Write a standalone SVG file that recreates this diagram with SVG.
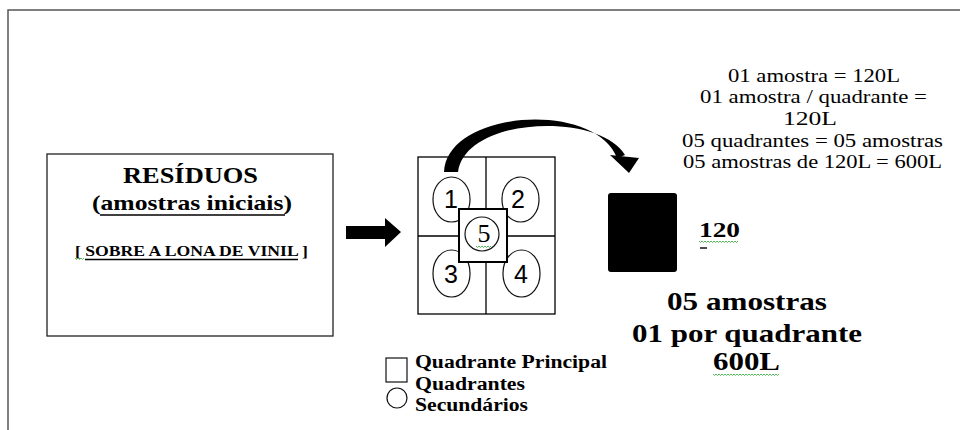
<svg xmlns="http://www.w3.org/2000/svg" width="960" height="430" viewBox="0 0 960 430">
  <style>
    .serif { font-family: "Liberation Serif", "Times New Roman", serif; fill: #000; }
    .bold { font-weight: bold; }
    .sans { font-family: "Liberation Sans", Arial, sans-serif; fill: #000; }
    .line { fill: none; stroke: #000; stroke-width: 1.3; }
    .thin { fill: #fff; stroke: #111; stroke-width: 1.2; }
    .ul { stroke: #000; stroke-width: 1.4; }
    .spell { fill: none; stroke: #3cb043; stroke-width: 0.9; }
    .frame { fill: none; stroke: #555; stroke-width: 1.5; }
  </style>
  <rect width="960" height="430" fill="#fff"/>
  <path class="frame" d="M8,430 V10 H960"/>

  <g id="residuos">
    <rect x="47" y="154" width="286" height="182" fill="#fff" stroke="#222" stroke-width="1.3"/>
    <text class="serif bold" x="123" y="183" font-size="23" textLength="135" lengthAdjust="spacingAndGlyphs">RESÍDUOS</text>
    <text class="serif bold" x="92" y="210" font-size="22" textLength="200" lengthAdjust="spacingAndGlyphs">(amostras iniciais)</text>
    <line class="ul" x1="100" y1="215" x2="285" y2="215"/>
    <text class="serif bold" x="75" y="256" font-size="15" textLength="233" lengthAdjust="spacingAndGlyphs">[ SOBRE A LONA DE VINIL ]</text>
    <line class="ul" x1="85" y1="259.5" x2="298" y2="259.5"/>
    <path class="spell" d="M75,258 l1.5,1.5 l1.5,-1.5 l1.5,1.5 l1.5,-1.5 l1.5,1.5 l1.5,-1.5"/>
  </g>

  <g id="quadrantes">
    <rect class="line" x="418" y="157" width="137" height="157"/>
    <line class="line" x1="486" y1="157" x2="486" y2="314"/>
    <line class="line" x1="418" y1="236" x2="555" y2="236"/>
    <rect class="thin" x="433" y="177" width="37" height="45" rx="18.5" ry="22"/>
    <rect class="thin" x="502" y="177" width="37" height="45" rx="18.5" ry="22"/>
    <rect class="thin" x="433" y="250" width="37" height="47" rx="18.5" ry="23"/>
    <rect class="thin" x="503" y="250" width="37" height="47" rx="18.5" ry="23"/>
    <text class="sans" x="451" y="208" font-size="25" text-anchor="middle">1</text>
    <text class="sans" x="518" y="208" font-size="25" text-anchor="middle">2</text>
    <text class="sans" x="451" y="283" font-size="25" text-anchor="middle">3</text>
    <text class="sans" x="521" y="283" font-size="25" text-anchor="middle">4</text>
    <rect x="459" y="209" width="48" height="53" fill="#fff" stroke="#000" stroke-width="2"/>
    <circle cx="482" cy="234" r="17" class="thin"/>
    <text class="serif" x="484" y="242" font-size="26" text-anchor="middle">5</text>
    <path class="spell" d="M476,246 l1.5,1.5 l1.5,-1.5 l1.5,1.5 l1.5,-1.5 l1.5,1.5 l1.5,-1.5 l1.5,1.5 l1.5,-1.5 l1.5,1.5 l1.5,-1.5"/>
  </g>

  <g id="calculo">
    <text class="serif" x="728" y="82" font-size="18" textLength="172" lengthAdjust="spacingAndGlyphs">01 amostra = 120L</text>
    <text class="serif" x="700" y="103" font-size="18" textLength="227" lengthAdjust="spacingAndGlyphs">01 amostra / quadrante =</text>
    <text class="serif" x="783" y="125" font-size="18" textLength="54" lengthAdjust="spacingAndGlyphs">120L</text>
    <text class="serif" x="682" y="147" font-size="18" textLength="261" lengthAdjust="spacingAndGlyphs">05 quadrantes = 05 amostras</text>
    <text class="serif" x="683" y="168" font-size="18" textLength="259" lengthAdjust="spacingAndGlyphs">05 amostras de 120L = 600L</text>
  </g>

  <g id="amostra">
    <rect x="608" y="193" width="69" height="79" rx="3" fill="#000"/>
    <text class="serif bold" x="699" y="237" font-size="20" textLength="41" lengthAdjust="spacingAndGlyphs">120</text>
    <path class="spell" d="M699,241 l1.5,1.5 l1.5,-1.5 l1.5,1.5 l1.5,-1.5 l1.5,1.5 l1.5,-1.5 l1.5,1.5 l1.5,-1.5 l1.5,1.5 l1.5,-1.5 l1.5,1.5 l1.5,-1.5 l1.5,1.5 l1.5,-1.5 l1.5,1.5 l1.5,-1.5 l1.5,1.5 l1.5,-1.5 l1.5,1.5 l1.5,-1.5 l1.5,1.5 l1.5,-1.5 l1.5,1.5 l1.5,-1.5 l1.5,1.5 l1.5,-1.5"/>
    <line class="ul" x1="700" y1="248" x2="707" y2="248"/>
  </g>

  <g id="resultado">
    <text class="serif bold" x="667" y="310" font-size="25" textLength="160" lengthAdjust="spacingAndGlyphs">05 amostras</text>
    <text class="serif bold" x="632" y="342" font-size="25" textLength="230" lengthAdjust="spacingAndGlyphs">01 por quadrante</text>
    <text class="serif bold" x="713" y="370" font-size="25" textLength="67" lengthAdjust="spacingAndGlyphs">600L</text>
    <path class="spell" d="M713,374 l1.5,1.5 l1.5,-1.5 l1.5,1.5 l1.5,-1.5 l1.5,1.5 l1.5,-1.5 l1.5,1.5 l1.5,-1.5 l1.5,1.5 l1.5,-1.5 l1.5,1.5 l1.5,-1.5 l1.5,1.5 l1.5,-1.5 l1.5,1.5 l1.5,-1.5 l1.5,1.5 l1.5,-1.5 l1.5,1.5 l1.5,-1.5 l1.5,1.5 l1.5,-1.5 l1.5,1.5 l1.5,-1.5 l1.5,1.5 l1.5,-1.5 l1.5,1.5 l1.5,-1.5 l1.5,1.5 l1.5,-1.5 l1.5,1.5 l1.5,-1.5 l1.5,1.5 l1.5,-1.5 l1.5,1.5 l1.5,-1.5 l1.5,1.5 l1.5,-1.5 l1.5,1.5 l1.5,-1.5 l1.5,1.5 l1.5,-1.5 l1.5,1.5 l1.5,-1.5"/>
  </g>

  <g id="legenda">
    <rect x="386" y="358" width="21" height="24" fill="#fff" stroke="#111" stroke-width="1.2"/>
    <circle cx="397" cy="398" r="10" fill="#fff" stroke="#111" stroke-width="1.2"/>
    <text class="serif bold" x="415" y="368" font-size="18" textLength="192" lengthAdjust="spacingAndGlyphs">Quadrante Principal</text>
    <text class="serif bold" x="415" y="390" font-size="18" textLength="110" lengthAdjust="spacingAndGlyphs">Quadrantes</text>
    <text class="serif bold" x="415" y="411" font-size="18" textLength="113" lengthAdjust="spacingAndGlyphs">Secundários</text>
  </g>

  <g id="conectores">
    <polygon points="346,226 385,226 385,218 401,232 385,247 385,239 346,239" fill="#000"/>
    <path d="M444,172 C447,110 595,100 617,158 L625,155 C600,112 466,116 458,172 Z" fill="#000"/>
    <polygon points="610,155 639,158 629,173" fill="#000"/>
  </g>
</svg>
